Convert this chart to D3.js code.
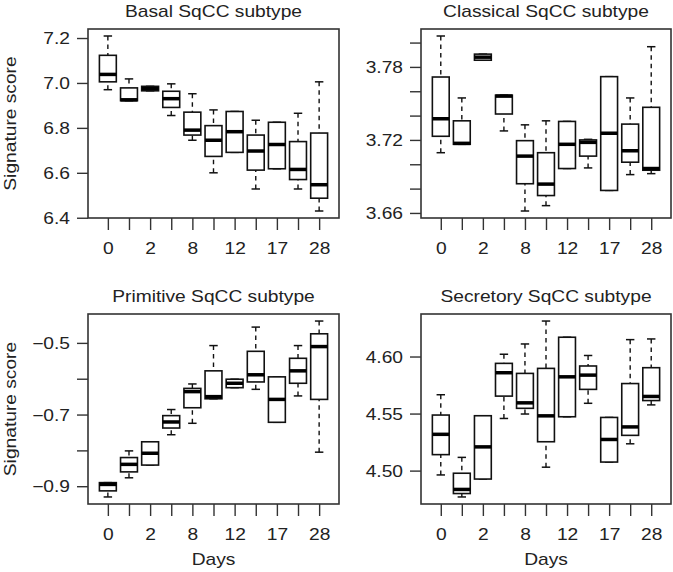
<!DOCTYPE html>
<html>
<head>
<meta charset="utf-8">
<script src="https://cdn.jsdelivr.net/npm/d3@7/dist/d3.min.js"></script>
<style>
  html, body { margin: 0; padding: 0; background: #fff; }
  svg { display: block; }
  text { font-family: "Liberation Sans", Arial, sans-serif; fill: #222; }
</style>
</head>
<body>
<svg id="chart" width="673" height="572"></svg>
<script>
// ---- Data ----
const days = ["0", "1", "2", "4", "8", "10", "12", "15", "17", "21", "28"];
const shownDayLabels = ["0", "2", "8", "12", "17", "28"];

const titles = ["Basal SqCC subtype", "Classical SqCC subtype", "Primitive SqCC subtype", "Secretory SqCC subtype"];

// Basal
const basalMax = [7.209, 7.018, 6.985, 6.996, 6.952, 6.880, 6.873, 6.834, 6.825, 6.865, 7.005];
const basalQ3  = [7.123, 6.978, 6.985, 6.963, 6.870, 6.810, 6.873, 6.768, 6.825, 6.739, 6.777];
const basalMed = [7.038, 6.925, 6.975, 6.930, 6.790, 6.745, 6.783, 6.697, 6.726, 6.615, 6.547];
const basalQ1  = [7.005, 6.921, 6.965, 6.891, 6.768, 6.673, 6.691, 6.612, 6.618, 6.570, 6.487];
const basalMin = [6.970, 6.921, 6.965, 6.855, 6.745, 6.600, 6.691, 6.528, 6.618, 6.528, 6.430];
const basalTicks = [6.4, 6.6, 6.8, 7.0, 7.2];
const basalTickLabels = ["6.4", "6.6", "6.8", "7.0", "7.2"];

// Classical
const classicalMax = [3.8054, 3.7545, 3.7905, 3.7568, 3.7324, 3.7357, 3.7352, 3.7205, 3.7720, 3.7545, 3.7966];
const classicalQ3  = [3.7717, 3.7357, 3.7905, 3.7568, 3.7194, 3.7095, 3.7352, 3.7200, 3.7720, 3.7330, 3.7468];
const classicalMed = [3.7374, 3.7172, 3.7880, 3.7560, 3.7067, 3.6837, 3.7164, 3.7180, 3.7255, 3.7111, 3.6965];
const classicalQ1  = [3.7230, 3.7164, 3.7855, 3.7413, 3.6840, 3.6743, 3.6965, 3.7067, 3.6785, 3.7017, 3.6951];
const classicalMin = [3.7095, 3.7164, 3.7855, 3.7274, 3.6616, 3.6660, 3.6965, 3.6970, 3.6785, 3.6915, 3.6923];
const classicalTicks = [3.66, 3.68, 3.70, 3.72, 3.74, 3.76, 3.78, 3.80];
const classicalTickLabels = ["3.66", "", "", "3.72", "", "", "3.78", ""];

// Primitive
const primitiveMax = [-0.890, -0.8014, -0.776, -0.686, -0.6146, -0.5075, -0.6014, -0.4559, -0.5948, -0.5075, -0.439];
const primitiveQ3  = [-0.890, -0.820, -0.776, -0.703, -0.627, -0.578, -0.6014, -0.5235, -0.5948, -0.543, -0.4746];
const primitiveMed = [-0.895, -0.839, -0.808, -0.7207, -0.636, -0.650, -0.6127, -0.589, -0.6577, -0.578, -0.5103];
const primitiveQ1  = [-0.913, -0.860, -0.841, -0.7376, -0.681, -0.656, -0.625, -0.609, -0.7216, -0.6127, -0.6577];
const primitiveMin = [-0.930, -0.8765, -0.841, -0.7563, -0.7244, -0.656, -0.625, -0.6296, -0.7216, -0.648, -0.805];
const primitiveTicks = [-0.9, -0.8, -0.7, -0.6, -0.5];
const primitiveTickLabels = ["\u22120.9", "", "\u22120.7", "", "\u22120.5"];

// Secretory
const secretoryMax = [4.5665, 4.5116, 4.5481, 4.6020, 4.6110, 4.6311, 4.6169, 4.6009, 4.5466, 4.6148, 4.6154];
const secretoryQ3  = [4.5487, 4.4977, 4.5481, 4.5940, 4.5852, 4.5896, 4.6169, 4.5917, 4.5466, 4.5763, 4.5902];
const secretoryMed = [4.5318, 4.4835, 4.5208, 4.5858, 4.5594, 4.5480, 4.5822, 4.5837, 4.5273, 4.5383, 4.5650];
const secretoryQ1  = [4.5140, 4.4799, 4.4926, 4.5653, 4.5546, 4.5253, 4.5472, 4.5712, 4.5075, 4.5309, 4.5614];
const secretoryMin = [4.4962, 4.4769, 4.4926, 4.5457, 4.5496, 4.5030, 4.5472, 4.5590, 4.5075, 4.5235, 4.5576];
const secretoryTicks = [4.50, 4.55, 4.60];
const secretoryTickLabels = ["4.50", "4.55", "4.60"];

const yLabel = "Signature score";
const xLabel = "Days";

// ---- Build panels ----
function stats(mn, q1, md, q3, mx) {
  return days.map((d, i) => ({ day: d, min: mn[i], q1: q1[i], med: md[i], q3: q3[i], max: mx[i] }));
}
const panelData = [
  { title: titles[0], stats: stats(basalMin, basalQ1, basalMed, basalQ3, basalMax), ticks: basalTicks, labels: basalTickLabels },
  { title: titles[1], stats: stats(classicalMin, classicalQ1, classicalMed, classicalQ3, classicalMax), ticks: classicalTicks, labels: classicalTickLabels },
  { title: titles[2], stats: stats(primitiveMin, primitiveQ1, primitiveMed, primitiveQ3, primitiveMax), ticks: primitiveTicks, labels: primitiveTickLabels },
  { title: titles[3], stats: stats(secretoryMin, secretoryQ1, secretoryMed, secretoryQ3, secretoryMax), ticks: secretoryTicks, labels: secretoryTickLabels }
];

const frames = [
  { left: 88, right: 339, top: 29, bottom: 218, yTitle: true, xTitle: false },
  { left: 421, right: 671, top: 29, bottom: 218, yTitle: false, xTitle: false },
  { left: 88, right: 339, top: 314, bottom: 504, yTitle: true, xTitle: true },
  { left: 421, right: 671, top: 314, bottom: 504, yTitle: false, xTitle: true }
];

const FS = 16, SX = 1.2;
const ink = "#222";
const svg = d3.select("#chart");

panelData.forEach((p, k) => {
  const f = frames[k];
  const g = svg.append("g");

  const x = d3.scalePoint().domain(days).range([f.left, f.right]).padding(0.94);
  const lo = d3.min(p.stats, d => d.min), hi = d3.max(p.stats, d => d.max);
  const pad = (hi - lo) * 0.04;
  const y = d3.scaleLinear().domain([lo - pad, hi + pad]).range([f.bottom, f.top]);
  const bw = x.step() * 0.8;
  const cw = bw * 0.5;

  // Axes
  const xAxis = d3.axisBottom(x).tickSize(12).tickPadding(12.5)
    .tickFormat((d, i) => shownDayLabels.includes(d) && i % 2 === 0 ? d : "");
  const xg = g.append("g").attr("transform", `translate(0,${f.bottom})`).call(xAxis);
  const yAxis = d3.axisLeft(y).tickValues(p.ticks).tickSize(11)
    .tickFormat((d, i) => p.labels[i]);
  const yg = g.append("g").attr("transform", `translate(${f.left},0)`).call(yAxis);
  [xg, yg].forEach(a => {
    a.select(".domain").remove();
    a.selectAll(".tick line").attr("stroke", "#333").attr("stroke-width", 1.4);
    a.selectAll(".tick text").attr("font-size", FS).attr("fill", ink)
      .attr("font-family", "Liberation Sans, Arial, sans-serif");
  });
  xg.selectAll(".tick text").attr("transform", `scale(${SX},1)`);
  yg.selectAll(".tick text").attr("x", 0).attr("dy", "0.35em")
    .attr("transform", `translate(-18,0) scale(${SX},1)`);

  // Frame
  g.append("rect").attr("x", f.left).attr("y", f.top)
    .attr("width", f.right - f.left).attr("height", f.bottom - f.top)
    .attr("fill", "none").attr("stroke", "#333").attr("stroke-width", 1.6);

  // Boxes
  const bx = g.append("g").selectAll("g").data(p.stats).join("g");
  // whiskers (from caps toward box)
  bx.append("line").attr("x1", d => x(d.day)).attr("x2", d => x(d.day))
    .attr("y1", d => y(d.max)).attr("y2", d => y(d.q3))
    .attr("stroke", "#111").attr("stroke-width", 1.4).attr("stroke-dasharray", "4.5,4");
  bx.append("line").attr("x1", d => x(d.day)).attr("x2", d => x(d.day))
    .attr("y1", d => y(d.min)).attr("y2", d => y(d.q1))
    .attr("stroke", "#111").attr("stroke-width", 1.4).attr("stroke-dasharray", "4.5,4");
  // caps
  bx.append("line").attr("x1", d => x(d.day) - cw / 2).attr("x2", d => x(d.day) + cw / 2)
    .attr("y1", d => y(d.max)).attr("y2", d => y(d.max))
    .attr("stroke", "#111").attr("stroke-width", 1.5);
  bx.append("line").attr("x1", d => x(d.day) - cw / 2).attr("x2", d => x(d.day) + cw / 2)
    .attr("y1", d => y(d.min)).attr("y2", d => y(d.min))
    .attr("stroke", "#111").attr("stroke-width", 1.5);
  // box
  bx.append("rect").attr("x", d => x(d.day) - bw / 2).attr("width", bw)
    .attr("y", d => y(d.q3)).attr("height", d => Math.max(0.5, y(d.q1) - y(d.q3)))
    .attr("fill", "#fff").attr("stroke", "#111").attr("stroke-width", 1.6);
  // median
  bx.append("line").attr("x1", d => x(d.day) - bw / 2).attr("x2", d => x(d.day) + bw / 2)
    .attr("y1", d => y(d.med)).attr("y2", d => y(d.med))
    .attr("stroke", "#000").attr("stroke-width", 3.5);

  // Titles
  const cx = (f.left + f.right) / 2;
  g.append("text").attr("transform", `translate(${cx},${f.top - 12}) scale(${SX},1)`)
    .attr("text-anchor", "middle").attr("font-size", FS).attr("fill", ink).text(p.title);
  if (f.xTitle) {
    g.append("text").attr("transform", `translate(${cx},${f.bottom + 61}) scale(${SX},1)`)
      .attr("text-anchor", "middle").attr("font-size", FS).attr("fill", ink).text(xLabel);
  }
  if (f.yTitle) {
    const cy = (f.top + f.bottom) / 2;
    g.append("text").attr("transform", `translate(16,${cy}) rotate(-90) scale(${SX},1)`)
      .attr("text-anchor", "middle").attr("font-size", FS).attr("fill", ink).text(yLabel);
  }
});
</script>
</body>
</html>
